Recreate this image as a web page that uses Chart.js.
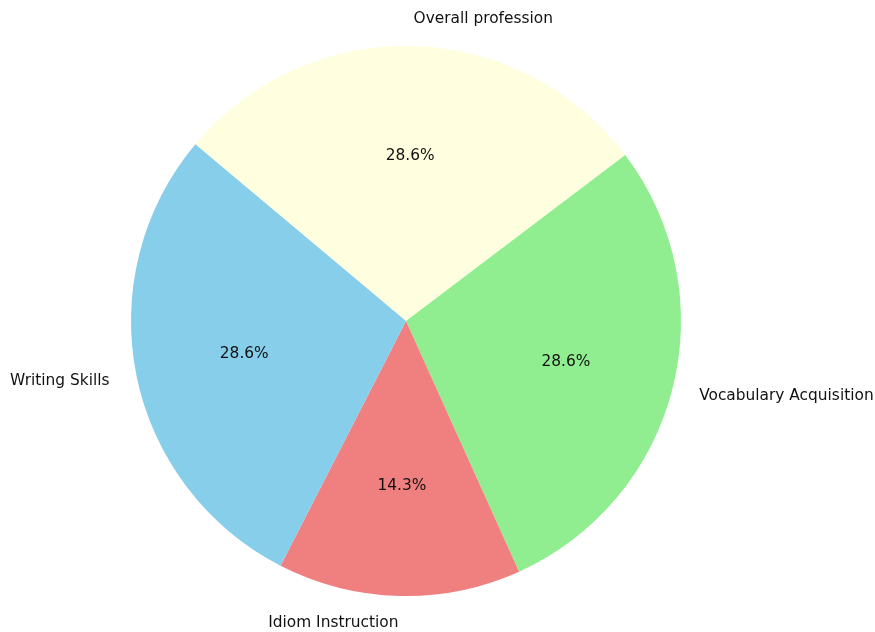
<!DOCTYPE html>
<html>
<head>
<meta charset="utf-8">
<script src="https://cdn.jsdelivr.net/npm/chart.js@4"></script>
<style>
  html, body { margin: 0; padding: 0; background: #fff; }
  #wrap { width: 875px; height: 632px; }
</style>
</head>
<body>
<div id="wrap"><canvas id="pieChart" width="875" height="632"></canvas></div>
<script>
// slices listed clockwise, starting from the upper-left edge
const labels = ['Overall profession', 'Vocabulary Acquisition', 'Idiom Instruction', 'Writing Skills'];
const counts = [2, 2, 1, 2];
const colors = ['#FFFFE0', '#90EE90', '#F08080', '#87CEEB'];

const FONT = '15.4px "DejaVu Sans", sans-serif';

// draws outside labels at 1.1r and percentages at 0.6r, like matplotlib autopct
const pieText = {
  id: 'pieText',
  afterDatasetsDraw(chart) {
    const ctx = chart.ctx;
    const meta = chart.getDatasetMeta(0);
    const total = counts.reduce((a, b) => a + b, 0);
    ctx.save();
    ctx.font = FONT;
    ctx.fillStyle = '#111';
    ctx.textBaseline = 'middle';
    meta.data.forEach((arc, i) => {
      const mid = (arc.startAngle + arc.endAngle) / 2;
      const r = arc.outerRadius;
      const cos = Math.cos(mid), sin = Math.sin(mid);
      // outer label
      ctx.textAlign = cos > 0.001 ? 'left' : (cos < -0.001 ? 'right' : 'center');
      ctx.fillText(labels[i], arc.x + 1.1 * r * cos, arc.y + 1.1 * r * sin);
      // percent
      ctx.textAlign = 'center';
      const pct = (counts[i] / total * 100).toFixed(1) + '%';
      ctx.fillText(pct, arc.x + 0.6 * r * cos, arc.y + 0.6 * r * sin);
    });
    ctx.restore();
  }
};

new Chart(document.getElementById('pieChart'), {
  type: 'pie',
  data: {
    labels: labels,
    datasets: [
      {
        data: counts,
        backgroundColor: colors,
        borderWidth: 0,
      },
    ],
  },
  options: {
    responsive: false,
    animation: false,
    rotation: -50,
    layout: { padding: { left: 131, right: 194, top: 46, bottom: 36 } },
    plugins: {
      legend: { display: false },
      tooltip: { enabled: false },
    },
  },
  plugins: [pieText],
});
</script>
</body>
</html>
